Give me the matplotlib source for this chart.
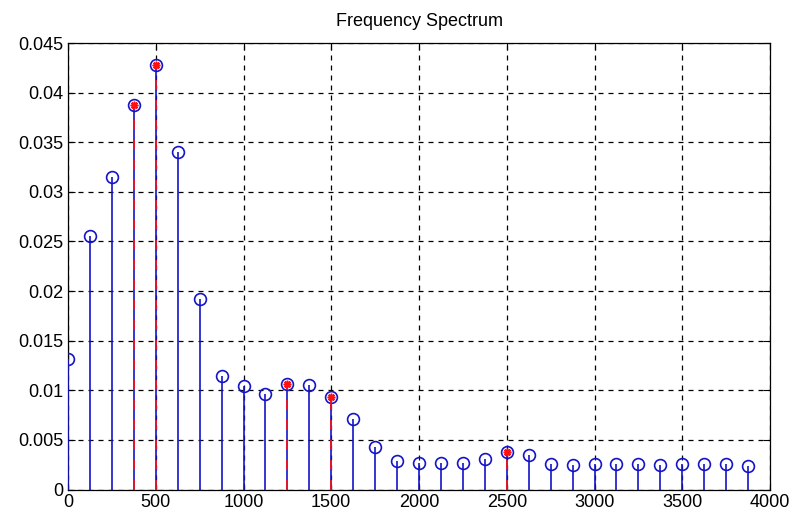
import numpy as np
import matplotlib
matplotlib.use("Agg")
import matplotlib.pyplot as plt

# Spectrum bins (Hz) and magnitudes
freqs = [0, 125, 250, 375, 500, 625, 750, 875, 1000, 1125, 1250, 1375, 1500,
         1625, 1750, 1875, 2000, 2125, 2250, 2375, 2500, 2625, 2750, 2875,
         3000, 3125, 3250, 3375, 3500, 3625, 3750, 3875]
mags = [0.0132, 0.0255, 0.0315, 0.0388, 0.0428, 0.0340, 0.0192, 0.0114,
        0.0104, 0.0096, 0.0106, 0.0105, 0.0093, 0.0071, 0.0043, 0.0029,
        0.0027, 0.0027, 0.0027, 0.0031, 0.0038, 0.0035, 0.0026, 0.0025,
        0.0026, 0.0026, 0.0026, 0.0025, 0.0026, 0.0026, 0.0026, 0.0024]

# Highlighted peaks
peak_freqs = [375, 500, 1250, 1500, 2500]
peak_mags = [mags[freqs.index(f)] for f in peak_freqs]

xticks = [0, 500, 1000, 1500, 2000, 2500, 3000, 3500, 4000]
yticks = [0, 0.005, 0.01, 0.015, 0.02, 0.025, 0.03, 0.035, 0.04, 0.045]
ytick_labels = ["0", "0.005", "0.01", "0.015", "0.02", "0.025", "0.03",
                "0.035", "0.04", "0.045"]

plt.rcParams["font.family"] = ["Liberation Sans", "DejaVu Sans"]

fig = plt.figure(figsize=(7.95, 5.18), dpi=100)
ax = fig.add_axes([68 / 795, 1 - 489.5 / 518, (770 - 68) / 795, (489.5 - 43) / 518])

blue = "#1414c8"
red = "#ff1010"

ax.vlines(freqs, 0, mags, colors=blue, linewidth=1.2, zorder=3)
ax.plot(freqs, mags, linestyle="none", marker="o", markersize=8.5,
        markerfacecolor="none", markeredgecolor=blue, markeredgewidth=1.2, zorder=4)

ax.vlines(peak_freqs, 0, peak_mags, colors=red, linewidth=1.2,
          linestyles=(0, (6, 6)), zorder=5)
ax.plot(peak_freqs, peak_mags, linestyle="none", marker=(8, 2, 0), markersize=5.5,
        color=red, markeredgecolor=red, markeredgewidth=1.2, zorder=6)

ax.set_xlim(0, 4000)
ax.set_ylim(0, 0.045)
ax.set_xticks(xticks)
ax.set_yticks(yticks)
ax.set_yticklabels(ytick_labels)

ax.grid(True, color="black", linestyle=(0, (4, 4)), linewidth=0.9)
ax.set_axisbelow(True)
ax.tick_params(direction="in", length=5, width=0.8, top=True, right=True,
               labelsize=13, pad=3)
for s in ax.spines.values():
    s.set_linewidth(0.9)
    s.set_color("black")

ax.set_title("Frequency Spectrum", fontsize=13, pad=12)

fig.savefig("out.png", dpi=100)
